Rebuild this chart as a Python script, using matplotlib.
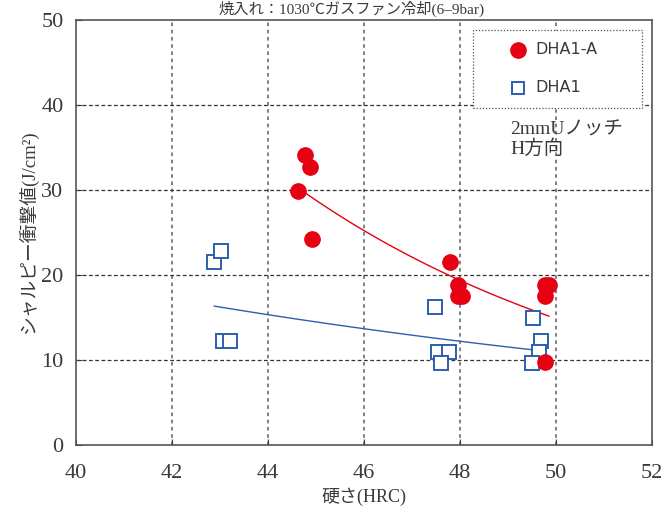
import numpy as np
import matplotlib
matplotlib.use("Agg")
import matplotlib.pyplot as plt

plt.rcParams['font.family'] = ['Liberation Serif', 'Noto Sans CJK JP', 'DejaVu Sans']

# ── data ─────────────────────────────────────────────────────────────────────
dha1a_x = [44.77, 44.88, 44.62, 44.92, 47.79, 47.95, 47.95, 48.05, 49.77, 49.85, 49.77, 49.77]
dha1a_y = [34.1, 32.7, 29.9, 24.2, 21.5, 18.8, 17.5, 17.5, 18.8, 18.8, 17.5, 9.8]

dha1_x = [42.88, 43.02, 43.06, 43.2, 47.48, 47.54, 47.77, 47.6, 49.52, 49.69, 49.65, 49.5]
dha1_y = [21.5, 22.8, 12.2, 12.2, 16.2, 10.9, 10.9, 9.6, 14.9, 12.2, 10.9, 9.6]

x_ticks = [40, 42, 44, 46, 48, 50, 52]
y_ticks = [0, 10, 20, 30, 40, 50]

title = "焼入れ：1030℃ガスファン冷却(6–9bar)"
note = "2mmUノッチ\nH方向"

RED = "#e60012"
BLUE = "#2d5fae"
TXT = "#3a3a3a"


def exp_trend(x, y):
    # Excel-style exponential trendline over the data range
    b, a = np.polyfit(x, np.log(y), 1)
    xs = np.linspace(min(x), max(x), 50)
    return xs, np.exp(a + b * xs)


fig = plt.figure(figsize=(6.64, 5.12), dpi=100)
ax = fig.add_axes([0.1145, 0.131, 0.8675, 0.830])

for xv in x_ticks[1:-1]:
    ax.axvline(xv, color="#777777", lw=1.3, ls=(0, (2, 2)), zorder=1)
for yv in y_ticks[1:-1]:
    ax.axhline(yv, color="#333333", lw=0.9, ls=(0, (3, 2)), zorder=1)

tx, ty = exp_trend(dha1a_x, dha1a_y)
ax.plot(tx, ty, color=RED, lw=1.0, zorder=2)
tx, ty = exp_trend(dha1_x, dha1_y)
ax.plot(tx, ty, color=BLUE, lw=1.0, zorder=2)

ax.plot(dha1a_x, dha1a_y, "o", ms=11, color=RED, mec=RED, zorder=4)
ax.plot(dha1_x, dha1_y, "s", ms=10, mfc="white", mec=BLUE, mew=1.4, zorder=3)

ax.set_xlim(40, 52)
ax.set_ylim(0, 50)
ax.set_xticks(x_ticks)
ax.set_yticks(y_ticks)
ax.tick_params(direction="in", length=4, labelsize=16, colors=TXT)
ax.tick_params(axis="x", pad=14)
ax.tick_params(axis="y", pad=9)
for sp in ax.spines.values():
    sp.set_color("#555555")
    sp.set_linewidth(1.2)

ax.set_xlabel("硬さ(HRC)", fontsize=13, color=TXT, labelpad=3)
ax.set_ylabel("シャルピー衝撃値(J/cm²)", fontsize=13.5, color=TXT, labelpad=2)

# legend box (dotted frame)
leg_x0, leg_y0, leg_x1, leg_y1 = 473, 30, 642, 108
W, H = 664, 512
fig.patches.append(plt.Rectangle((leg_x0 / W, 1 - leg_y1 / H), (leg_x1 - leg_x0) / W,
                                 (leg_y1 - leg_y0) / H, transform=fig.transFigure,
                                 fill=True, fc="white", ec="#555555", lw=0.9,
                                 ls=(0, (1, 1.5)), zorder=5))
fig.lines.append(plt.Line2D([518 / W], [1 - 50 / H], marker="o", ms=11, color=RED,
                            ls="none", transform=fig.transFigure, zorder=6))
fig.lines.append(plt.Line2D([518 / W], [1 - 88 / H], marker="s", ms=9, mfc="white",
                            mec=BLUE, mew=1.4, ls="none", transform=fig.transFigure, zorder=6))
fig.text(535 / W, 1 - 50 / H, "DHA1-A", fontsize=11.5, family=["DejaVu Sans"],
         color=TXT, va="center", zorder=6)
fig.text(535 / W, 1 - 88 / H, "DHA1", fontsize=11.5, family=["DejaVu Sans"],
         color=TXT, va="center", zorder=6)

fig.text(510 / W, 1 - 140 / H, note, fontsize=14, color=TXT, va="center",
         linespacing=1.05)

fig.text(0.53, 0.999, title, fontsize=11, color=TXT, ha="center", va="top")

fig.savefig("out.png", dpi=100)
